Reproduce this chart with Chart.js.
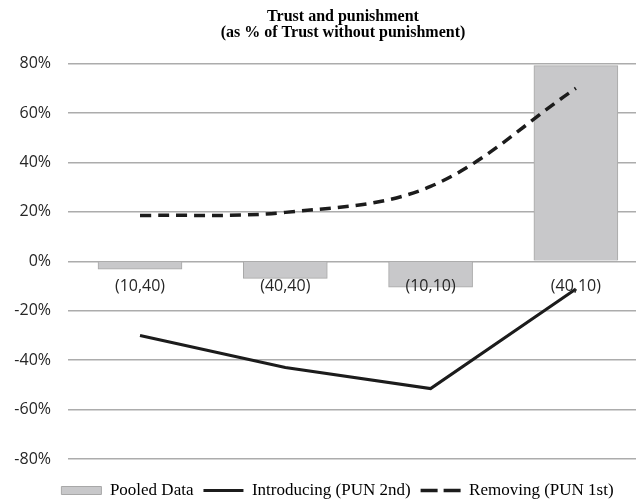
<!DOCTYPE html>
<html>
<head>
<meta charset="utf-8">
<script src="https://cdn.jsdelivr.net/npm/chart.js@4/dist/chart.umd.min.js"></script>
<style>
  body { margin: 0; background: #fff; }
  canvas { display: block; }
</style>
</head>
<body>
<canvas id="trustChart" width="636" height="502"></canvas>
<script>
const categories = ['(10,40)', '(40,40)', '(10,10)', '(40,10)'];
const pooled = [-3.2, -6.9, -10.5, 79.2];
const introducing = [-30, -43, -51.5, -11.2];
const removing = [18.5, 19.8, 30.3, 70];
const yMin = -80, yMax = 80, yStep = 20;

// shifts title and legend to where the original (wider) chart had them
const shiftBoxes = {
    id: 'shiftBoxes',
    afterLayout(chart) {
        const t = chart.titleBlock;
        t.left = 50; t.right = 636;
        const l = chart.legend;
        l.left = 39; l.right = 636;
        l.top += 13; l.bottom += 13;
    }
};

const points = arr => arr.map((v, i) => ({ x: i + 1, y: v }));

const ctx = document.getElementById('trustChart').getContext('2d');
const trustChart = new Chart(ctx, {
    data: {
        datasets: [{
            type: 'bar',
            label: 'Pooled Data',
            data: points(pooled),
            backgroundColor: '#c8c8ca',
            borderColor: '#a8a8a8',
            borderWidth: 1,
            barThickness: 84,
            order: 2
        }, {
            type: 'line',
            label: 'Introducing (PUN 2nd)',
            data: points(introducing),
            borderColor: '#1c1c1c',
            borderWidth: 3,
            pointRadius: 0,
            tension: 0,
            order: 1
        }, {
            type: 'line',
            label: 'Removing (PUN 1st)',
            data: points(removing),
            borderColor: '#1c1c1c',
            borderWidth: 3.5,
            borderDash: [11, 7],
            pointRadius: 0,
            tension: 0.35,
            order: 1
        }]
    },
    options: {
        responsive: false,
        animation: false,
        layout: { padding: { left: 0, right: 0, top: 0, bottom: 6 } },
        scales: {
            x: {
                type: 'linear',
                position: { y: 0 },
                offset: false,
                min: 0.5045,
                max: 4.4137,
                grid: { display: false, offset: false },
                border: { display: false },
                afterBuildTicks: scale => {
                    scale.ticks = categories.map((c, i) => ({ value: i + 1 }));
                },
                ticks: {
                    z: 1,
                    padding: 8,
                    color: '#262626',
                    font: { family: 'Open Sans', size: 16 },
                    maxRotation: 0,
                    callback: v => categories[v - 1]
                }
            },
            y: {
                min: yMin,
                max: yMax,
                afterFit: scale => { scale.width = 68; },
                grid: { color: '#acacac', lineWidth: 1.5, drawTicks: false },
                border: { display: false },
                ticks: {
                    stepSize: yStep,
                    padding: 17,
                    color: '#262626',
                    font: { family: 'Open Sans', size: 16 },
                    callback: v => v + '%'
                }
            }
        },
        plugins: {
            title: {
                display: true,
                text: ['Trust and punishment', '(as % of Trust without punishment)'],
                color: '#000',
                font: { family: 'Liberation Serif', size: 16, weight: 'bold', lineHeight: 1.05 },
                padding: { top: 8, bottom: 22 }
            },
            legend: {
                position: 'bottom',
                labels: {
                    color: '#000',
                    font: { family: 'Liberation Serif', size: 17 },
                    usePointStyle: true,
                    pointStyleWidth: 40,
                    boxHeight: 8,
                    padding: 10,
                    // legend dashes are longer than in the plot
                    generateLabels: chart => chart.data.datasets.map((ds, i) => ({
                        text: ds.label,
                        datasetIndex: i,
                        fillStyle: ds.type === 'bar' ? ds.backgroundColor : 'rgba(0,0,0,0)',
                        strokeStyle: ds.borderColor,
                        lineWidth: ds.borderWidth,
                        lineDash: ds.borderDash ? [17, 6] : [],
                        pointStyle: ds.type === 'bar' ? 'rect' : 'line',
                        fontColor: '#000',
                        hidden: false
                    }))
                }
            },
            tooltip: { enabled: false }
        }
    },
    plugins: [shiftBoxes]
});
</script>
</body>
</html>
